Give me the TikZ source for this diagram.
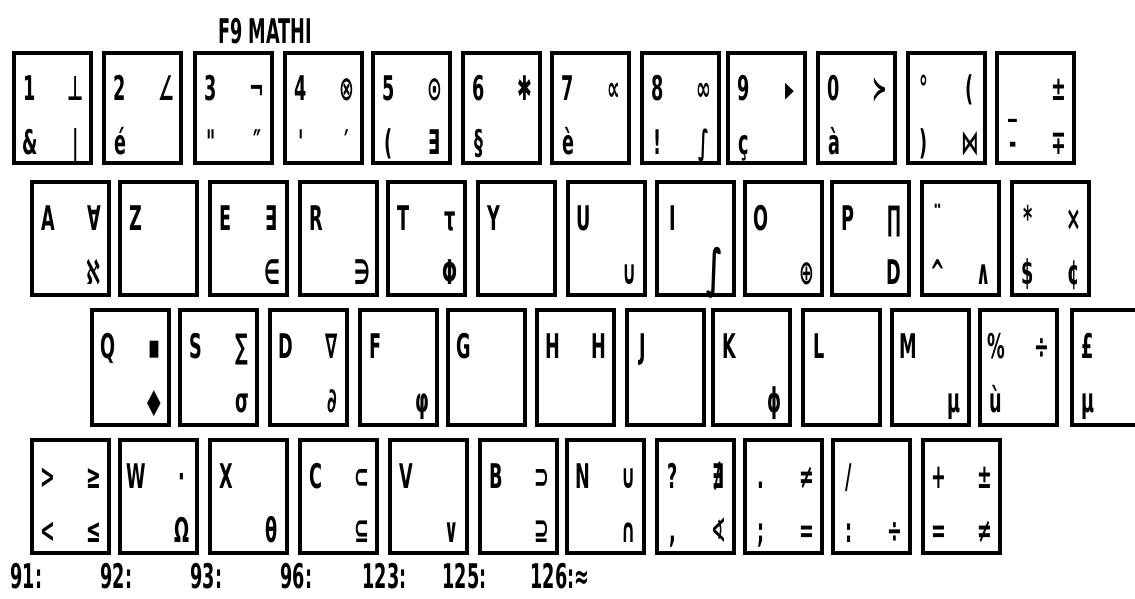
\documentclass[tikz,border=0pt]{standalone}
\usepackage{fontspec}
\newfontfamily\kf[FakeStretch=0.52]{DejaVu Sans}
\usetikzlibrary{calc}
\tikzset{
  keybox/.style={draw, line width=1.8pt, anchor=north west, minimum width=38.5pt, inner sep=0pt, outer sep=0pt},
  glyph/.style={anchor=base, inner sep=0pt, font=\kf\bfseries\fontsize{17}{17}\selectfont},
  label/.style={anchor=base west, inner sep=0pt, font=\kf\bfseries\fontsize{17}{17}\selectfont}
}
% #1 name, #2 left, #3 top, #4 height(px), #5 tl, #6 tr, #7 bl, #8 br
\newcommand{\K}[8]{%
  \node[keybox, minimum height=#4*0.5pt] (#1) at (#2,#3) {};
  \node[glyph] (#1tl) at ($(#1.north west)+(16,48)$) {#5};
  \node[glyph] (#1tr) at ($(#1.north west)+(62,48)$) {#6};
  \node[glyph] (#1bl) at ($(#1.north west)+(16,102)$) {#7};
  \node[glyph] (#1br) at ($(#1.north west)+(62,102)$) {#8};
}
\begin{document}
\begin{tikzpicture}[x=0.5pt,y=-0.5pt]
\clip (0,0) rectangle (1135,599);
\fill[white] (0,0) rectangle (1135,599);
\node[label] (title) at (218,44) {F9 MATHI};
% row 1
\K{k1}{14}{53}{110}{1}{⊥}{\&}{|}
\K{k2}{104}{53}{110}{2}{∠}{é}{}
\K{k3}{195}{53}{110}{3}{¬}{"}{″}
\K{k4}{285}{53}{110}{4}{⊗}{'}{′}
\K{k5}{373}{53}{110}{5}{⊙}{(}{∃}
\K{k6}{463}{53}{110}{6}{✱}{§}{}
\K{k7}{552}{53}{110}{7}{∝}{è}{}
\K{k8}{642}{53}{110}{8}{∞}{!}{∫}
\K{k9}{728}{53}{110}{9}{▸}{ç}{}
\K{k0}{818}{53}{110}{0}{≻}{à}{}
\K{kdeg}{908}{53}{110}{°}{(}{)}{⋈}
\K{kmin}{997}{53}{110}{}{±}{-}{∓}
\node[glyph] (kminmid) at ($(kmin.north west)+(16,62)$) {\_};
% row 2
\K{ka}{32}{182}{113}{A}{∀}{}{ℵ}
\K{kz}{120}{182}{113}{Z}{}{}{}
\K{ke}{210}{182}{113}{E}{∃}{}{∈}
\K{kr}{300}{182}{113}{R}{}{}{∋}
\K{kt}{388}{182}{113}{T}{τ}{}{Φ}
\K{ky}{478}{182}{113}{Y}{}{}{}
\K{ku}{568}{182}{113}{U}{}{}{∪}
\K{ki}{657}{182}{113}{I}{}{}{}
\node[glyph, font=\kf\bfseries\fontsize{26}{26}\selectfont] (kiint) at ($(ki.north west)+(58,104)$) {∫};
\K{ko}{745}{182}{113}{O}{}{}{⊕}
\K{kp}{832}{182}{113}{P}{∏}{}{D}
\K{kcirc}{922}{182}{113}{¨}{}{\textasciicircum}{∧}
\K{kdol}{1012}{182}{113}{*}{×}{\$}{¢}
% row 3
\K{kq}{92}{310}{115}{Q}{▪}{}{◆}
\K{ks}{180}{310}{115}{S}{∑}{}{σ}
\K{kd}{270}{310}{115}{D}{∇}{}{∂}
\K{kf}{360}{310}{115}{F}{}{}{φ}
\K{kg}{448}{310}{115}{G}{}{}{}
\K{kh}{537}{310}{115}{H}{H}{}{}
\K{kj}{627}{310}{115}{J}{}{}{}
\K{kk}{713}{310}{115}{K}{}{}{ϕ}
\K{kl}{803}{310}{115}{L}{}{}{}
\K{km}{892}{310}{115}{M}{}{}{μ}
\K{ku2}{980}{310}{115}{\%}{÷}{ù}{}
\K{kmu}{1072}{310}{115}{£}{}{µ}{}
% row 4
\K{klt}{32}{440}{113}{>}{≥}{<}{≤}
\K{kw}{120}{440}{113}{W}{·}{}{Ω}
\K{kx}{210}{440}{113}{X}{}{}{θ}
\K{kc}{300}{440}{113}{C}{⊂}{}{⊆}
\K{kv}{390}{440}{113}{V}{}{}{∨}
\K{kb}{480}{440}{113}{B}{⊃}{}{⊇}
\K{kn}{567}{440}{113}{N}{∪}{}{∩}
\K{kq2}{657}{440}{113}{?}{∄}{,}{∢}
\K{ksemi}{745}{440}{113}{.}{≠}{;}{=}
\K{kcol}{833}{440}{113}{/}{}{:}{÷}
\K{kplus}{923}{440}{113}{+}{±}{=}{≠}
% codes
\node[label] (c91) at (10,588) {91:};
\node[label] (c92) at (100,588) {92:};
\node[label] (c93) at (190,588) {93:};
\node[label] (c96) at (280,588) {96:};
\node[label] (c123) at (362,588) {123:};
\node[label] (c125) at (442,588) {125:};
\node[label] (c126) at (530,588) {126:≈};
\end{tikzpicture}
\end{document}
